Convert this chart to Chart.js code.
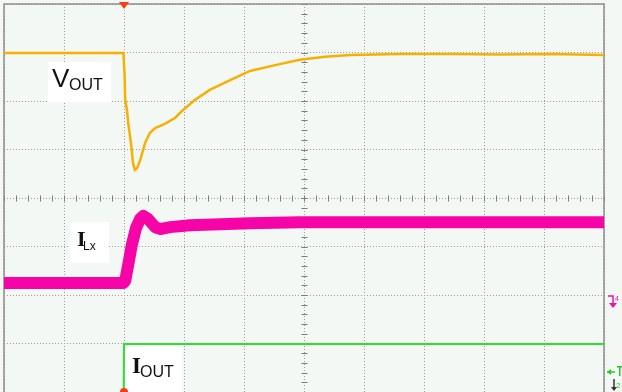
<!DOCTYPE html>
<html>
<head>
<meta charset="utf-8">
<script src="https://cdn.jsdelivr.net/npm/chart.js@4.4.1/dist/chart.umd.min.js"></script>
<style>
  html, body { margin: 0; padding: 0; background: #f4f8f5; }
  #wrap { width: 622px; height: 392px; }
</style>
</head>
<body>
<div id="wrap"><canvas id="scope" width="622" height="392"></canvas></div>
<script>
// screen units are scope divisions: 10 across, 8 down (-4..4)
var voutX = [0, 0.6, 1.27, 1.99, 2.01, 2.02, 2.05, 2.07, 2.12, 2.15, 2.18, 2.22, 2.27, 2.35, 2.43, 2.52, 2.68, 2.85, 2.98, 3.18, 3.43, 3.77, 4.1, 4.52, 4.93, 5.35, 5.77, 6.6, 7.43, 8.27, 9.1, 10];
var voutY = [2.99, 2.99, 2.99, 2.99, 2.54, 2.02, 1.81, 1.55, 1.09, 0.72, 0.58, 0.62, 0.78, 1.13, 1.34, 1.44, 1.53, 1.65, 1.81, 2.02, 2.23, 2.43, 2.62, 2.74, 2.85, 2.91, 2.95, 2.97, 2.97, 2.96, 2.97, 2.95];

var ilxX = [0, 1.99, 2.02, 2.07, 2.13, 2.2, 2.27, 2.32, 2.4, 2.52, 2.6, 2.77, 3.1, 4.1, 4.93, 10];
var ilxY = [-1.75, -1.75, -1.71, -1.38, -0.97, -0.62, -0.43, -0.37, -0.43, -0.6, -0.64, -0.6, -0.56, -0.52, -0.5, -0.5];

var ioutX = [0, 1.995, 2.0, 10];
var ioutY = [-4.2, -4.2, -3.01, -3.01];

function pts(xs, ys) {
    return xs.map((x, i) => ({ x: x, y: ys[i] }));
}

var GRID = '#9c9c9c';
var SANS = '"Liberation Sans", Arial, sans-serif';
var SERIF = '"Liberation Serif", "Times New Roman", serif';

// labels, border, centre ticks and channel markers
var scopeDecor = {
    id: 'scopeDecor',
    beforeDraw: function (chart) {
        var c = chart.ctx;
        c.save();
        c.fillStyle = '#f4f8f5';
        c.fillRect(0, 0, chart.width, chart.height);
        c.restore();
    },
    beforeDatasetsDraw: function (chart) {
        var c = chart.ctx, a = chart.chartArea;
        var xs = chart.scales.x, ys = chart.scales.y;
        c.save();
        // minor ticks on the centre axes
        c.strokeStyle = '#7a7a7a';
        c.lineWidth = 1;
        var cx = Math.round(xs.getPixelForValue(5)) + 0.5;
        var cy = Math.round(ys.getPixelForValue(0)) + 0.5;
        for (var i = 0; i <= 50; i++) {
            var px = Math.round(xs.getPixelForValue(i / 5)) + 0.5;
            c.beginPath(); c.moveTo(px, cy - 3); c.lineTo(px, cy + 3); c.stroke();
        }
        for (var j = 0; j <= 40; j++) {
            var py = Math.round(ys.getPixelForValue(-4 + j / 5)) + 0.5;
            c.beginPath(); c.moveTo(cx - 3, py); c.lineTo(cx + 3, py); c.stroke();
        }
        // frame
        c.strokeStyle = '#8c8c8c';
        c.lineWidth = 1.5;
        c.beginPath();
        c.moveTo(a.left, a.bottom); c.lineTo(a.left, a.top);
        c.lineTo(a.right, a.top); c.lineTo(a.right, a.bottom);
        c.stroke();

        // white label boxes
        c.fillStyle = '#ffffff';
        c.fillRect(48, 62, 63, 40);
        c.fillRect(70, 222, 39, 41);
        c.fillRect(125, 346, 57, 46);

        c.fillStyle = '#111';
        c.textBaseline = 'alphabetic';
        c.font = '26px ' + SANS;
        c.fillText('V', 52, 87);
        c.font = '16px ' + SANS;
        c.fillText('OUT', 69, 90);

        c.font = 'bold 22px ' + SERIF;
        c.fillText('I', 77, 246);
        c.font = '12px ' + SANS;
        c.fillText('Lx', 83, 250);

        c.font = 'bold 23px ' + SERIF;
        c.fillText('I', 132, 373);
        c.font = '16px ' + SANS;
        c.fillText('OUT', 140, 377);
        c.restore();
    },
    afterDraw: function (chart) {
        var c = chart.ctx;
        var tx = chart.scales.x.getPixelForValue(2);
        c.save();
        // trigger position markers
        c.fillStyle = '#ff3a10';
        c.beginPath();
        c.moveTo(tx - 5, 2); c.lineTo(tx + 5, 2); c.lineTo(tx, 9); c.closePath();
        c.fill();
        c.beginPath();
        c.arc(tx, 392, 4, 0, Math.PI * 2);
        c.fill();

        // channel 4 marker (magenta)
        c.strokeStyle = '#f010b0';
        c.fillStyle = '#f010b0';
        c.lineWidth = 1.5;
        c.beginPath();
        c.moveTo(608, 296); c.lineTo(613, 296); c.lineTo(613, 304); c.stroke();
        c.beginPath();
        c.moveTo(609, 303); c.lineTo(617, 303); c.lineTo(613, 308); c.closePath(); c.fill();
        c.font = '7px ' + SANS;
        c.fillText('4', 615, 301);

        // trigger level marker (green)
        c.strokeStyle = '#22cc22';
        c.fillStyle = '#22cc22';
        c.beginPath();
        c.moveTo(607, 372); c.lineTo(615, 372); c.stroke();
        c.beginPath();
        c.moveTo(607, 372); c.lineTo(611, 369); c.lineTo(611, 375); c.closePath(); c.fill();
        c.fillRect(617, 366, 5, 1.5);
        c.fillRect(619, 366, 1.5, 10);

        // channel 2 ground marker
        c.strokeStyle = '#333';
        c.beginPath();
        c.moveTo(614, 379); c.lineTo(614, 390); c.stroke();
        c.fillStyle = '#333';
        c.beginPath();
        c.moveTo(611, 387); c.lineTo(617, 387); c.lineTo(614, 391); c.closePath(); c.fill();
        c.fillStyle = '#22cc22';
        c.font = '8px ' + SANS;
        c.fillText('2', 616, 388);
        c.restore();
    }
};

new Chart(document.getElementById('scope').getContext('2d'), {
    type: 'line',
    data: {
        datasets: [{
            label: 'IOUT',
            data: pts(ioutX, ioutY),
            borderColor: '#2ee02e',
            borderWidth: 2,
            pointRadius: 0,
            tension: 0
        }, {
            label: 'ILx',
            data: pts(ilxX, ilxY),
            borderColor: '#f704a8',
            borderWidth: 12,
            pointRadius: 0,
            tension: 0,
            borderJoinStyle: 'round'
        }, {
            label: 'VOUT',
            data: pts(voutX, voutY),
            borderColor: '#f6b000',
            borderWidth: 2.5,
            pointRadius: 0,
            tension: 0
        }]
    },
    options: {
        responsive: false,
        animation: false,
        layout: { padding: { left: 4, top: 4, right: 18, bottom: 0 } },
        plugins: {
            legend: { display: false },
            tooltip: { enabled: false }
        },
        scales: {
            x: {
                type: 'linear',
                min: 0,
                max: 10,
                ticks: { display: false, stepSize: 1 },
                grid: { color: GRID, lineWidth: 1, drawTicks: false, tickLength: 0 },
                border: { display: false, dash: [1, 2] }
            },
            y: {
                type: 'linear',
                min: -4,
                max: 4,
                ticks: { display: false, stepSize: 1 },
                grid: { color: GRID, lineWidth: 1, drawTicks: false, tickLength: 0 },
                border: { display: false, dash: [1, 2] }
            }
        }
    },
    plugins: [scopeDecor]
});
</script>
</body>
</html>
